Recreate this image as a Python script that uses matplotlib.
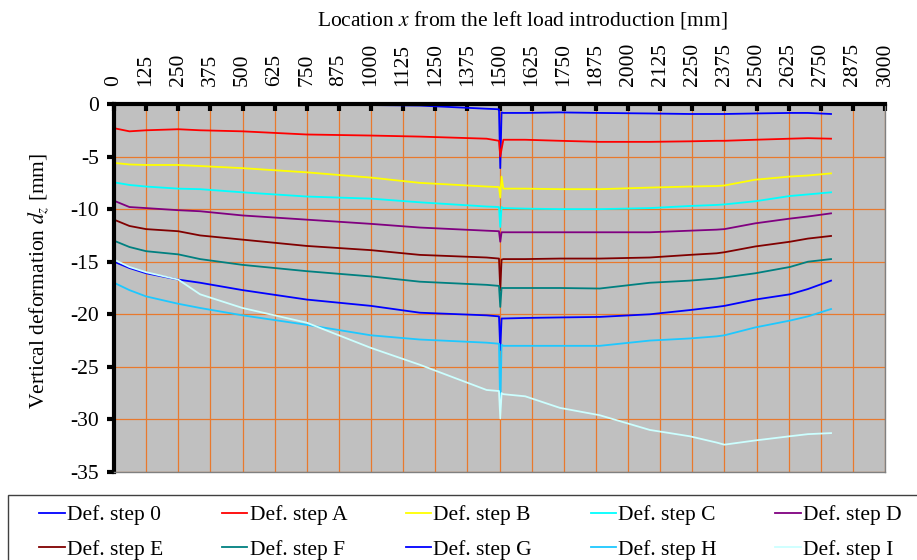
import numpy as np
import matplotlib
matplotlib.use("Agg")
import matplotlib.pyplot as plt
from matplotlib.patches import Rectangle

plt.rcParams["font.family"] = ["Liberation Serif", "DejaVu Serif"]
plt.rcParams["mathtext.fontset"] = "stix"
plt.rcParams["axes.unicode_minus"] = False

# -----------------------------
# Data
# -----------------------------
x_mm = [0, 60, 125, 250, 335, 500, 750, 1000, 1190, 1450, 1498, 1503, 1508, 1515,
        1600, 1735, 1890, 2085, 2240, 2345, 2375, 2495, 2630, 2700, 2790]

step_0 = [-0.05, -0.1, -0.05, 0, 0, 0, -0.05, -0.1, -0.15, -0.45, -0.5, -6.1, -0.8, -0.85,
          -0.85, -0.8, -0.85, -0.9, -0.95, -0.95, -0.95, -0.9, -0.85, -0.85, -0.95]
step_A = [-2.3, -2.6, -2.5, -2.4, -2.5, -2.6, -2.9, -3.0, -3.1, -3.3, -3.5, -5.0, -4.3, -3.4,
          -3.4, -3.5, -3.6, -3.6, -3.55, -3.5, -3.5, -3.4, -3.3, -3.25, -3.3]
step_B = [-5.6, -5.75, -5.8, -5.8, -5.9, -6.1, -6.5, -7.0, -7.5, -7.85, -7.9, -8.9, -6.9, -8.05,
          -8.05, -8.1, -8.1, -7.95, -7.85, -7.8, -7.75, -7.2, -6.9, -6.8, -6.6]
step_C = [-7.45, -7.7, -7.85, -8.05, -8.1, -8.4, -8.8, -9.0, -9.35, -9.75, -9.8, -11.7, -9.8, -9.9,
          -9.95, -10.0, -10.0, -9.9, -9.7, -9.6, -9.55, -9.25, -8.75, -8.6, -8.4]
step_D = [-9.2, -9.8, -9.9, -10.1, -10.2, -10.6, -11.0, -11.4, -11.75, -12.05, -12.1, -13.1, -12.2, -12.2,
          -12.2, -12.2, -12.2, -12.2, -12.05, -11.95, -11.9, -11.35, -10.9, -10.7, -10.4]
step_E = [-11.0, -11.6, -11.9, -12.1, -12.5, -12.9, -13.5, -13.9, -14.35, -14.6, -14.7, -17.7, -14.8, -14.75,
          -14.75, -14.7, -14.7, -14.6, -14.35, -14.2, -14.1, -13.55, -13.1, -12.8, -12.55]
step_F = [-13.0, -13.6, -14.0, -14.3, -14.75, -15.3, -15.9, -16.4, -16.9, -17.2, -17.3, -19.3, -17.5, -17.5,
          -17.5, -17.5, -17.55, -17.0, -16.8, -16.6, -16.5, -16.1, -15.5, -15.0, -14.75]
step_G = [-15.0, -15.6, -16.1, -16.7, -17.0, -17.7, -18.6, -19.2, -19.85, -20.1, -20.2, -23.4, -20.4, -20.4,
          -20.35, -20.3, -20.25, -20.0, -19.6, -19.3, -19.2, -18.6, -18.1, -17.6, -16.8]
step_H = [-17.0, -17.7, -18.3, -19.0, -19.4, -20.1, -21.0, -22.0, -22.4, -22.7, -22.8, -29.1, -22.9, -23.0,
          -23.0, -23.0, -23.0, -22.5, -22.3, -22.1, -22.0, -21.25, -20.6, -20.2, -19.5]
step_I = [-14.8, -15.5, -16.0, -16.7, -18.1, -19.4, -20.8, -23.2, -24.8, -27.2, -27.3, -29.9, -27.5, -27.6,
          -27.8, -28.9, -29.6, -31.0, -31.6, -32.2, -32.4, -32.0, -31.6, -31.4, -31.3]

labels = ["Def. step 0", "Def. step A", "Def. step B", "Def. step C", "Def. step D",
          "Def. step E", "Def. step F", "Def. step G", "Def. step H", "Def. step I"]
series = [step_0, step_A, step_B, step_C, step_D, step_E, step_F, step_G, step_H, step_I]
colors = ["#0000FF", "#FF0000", "#FFFF00", "#00FFFF", "#800080",
          "#800000", "#008080", "#0000FF", "#1EC8FF", "#CCFFFF"]

x_ticks = np.arange(0, 3001, 125)
y_ticks = np.arange(-35, 1, 5)

FS = 15.5

# -----------------------------
# Plot
# -----------------------------
fig = plt.figure(figsize=(9.17, 5.6), dpi=100)
ax = fig.add_axes([114 / 917, 1 - 472 / 560, 771 / 917, 368 / 560])
ax.set_facecolor("#C0C0C0")

for vals, lab, col in zip(series, labels, colors):
    ax.plot(x_mm, vals, color=col, lw=1.3, label=lab)

ax.set_xlim(0, 3000)
ax.set_ylim(-35, 0)
ax.set_xticks(x_ticks)
ax.set_yticks(y_ticks)
ax.xaxis.tick_top()
ax.xaxis.set_label_position("top")
ax.set_xticklabels([str(v) for v in x_ticks], rotation=90, fontsize=FS)
ax.set_yticklabels([str(v) for v in y_ticks], fontsize=FS)
ax.tick_params(axis="x", direction="in", length=5, width=3, pad=13)
ax.tick_params(axis="y", direction="out", length=5, width=3, pad=6)

ax.grid(True, color="#E8792E", lw=0.9)
ax.set_axisbelow(True)

for side in ["top", "left"]:
    ax.spines[side].set_linewidth(3)
    ax.spines[side].set_color("black")
for side in ["bottom", "right"]:
    ax.spines[side].set_linewidth(1)
    ax.spines[side].set_color("#808080")

ax.set_xlabel("Location $x$ from the left load introduction [mm]", fontsize=FS, labelpad=12)
ax.xaxis.label.set_x(0.529)
ax.set_ylabel("Vertical deformation $d_z$ [mm]", fontsize=FS, labelpad=14)
ax.yaxis.label.set_y(0.52)

# legend: Excel-style, filled row by row, box running off the right/bottom edge
handles, labs = ax.get_legend_handles_labels()
order = [0, 5, 1, 6, 2, 7, 3, 8, 4, 9]
fig.patches.append(Rectangle((8 / 917, -0.05), 1.0, 0.05 + 1 - 495 / 560,
                             transform=fig.transFigure, facecolor="white",
                             edgecolor="#404040", lw=1, zorder=0))
fig.legend([handles[i] for i in order], [labs[i] for i in order], ncol=5,
           loc="upper left", bbox_to_anchor=(39 / 917, 1 - 505 / 560, 863 / 917, 0.0),
           mode="expand", fontsize=FS, handlelength=1.2, handletextpad=0.1,
           labelspacing=0.69, borderpad=0, borderaxespad=0, frameon=False)

plt.savefig("out.png", dpi=100)
